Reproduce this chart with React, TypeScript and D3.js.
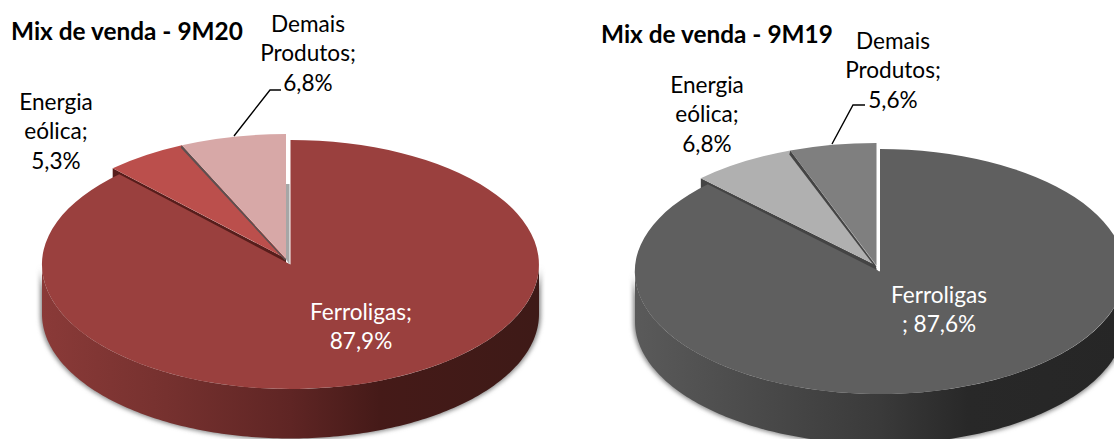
import React from "react";
import * as d3 from "d3";

const categories = ["Ferroligas", "Energia eólica", "Demais Produtos"];
const values9M20 = [87.9, 5.3, 6.8];
const values9M19 = [87.6, 6.8, 5.6];
const title9M20 = "Mix de venda - 9M20";
const title9M19 = "Mix de venda - 9M19";
const labels9M20 = [["Ferroligas;", "87,9%"], ["Energia", "eólica;", "5,3%"], ["Demais", "Produtos;", "6,8%"]];
const labels9M19 = [["Ferroligas", "; 87,6%"], ["Energia", "eólica;", "6,8%"], ["Demais", "Produtos;", "5,6%"]];

const FONT = "Lato, 'Open Sans', sans-serif";
const DEG = Math.PI / 180;

type Cfg = {
  id: string; values: number[]; labels: string[][]; title: string;
  cx: number; cy: number; rx: number; ry: number; depth: number;
  dx: number; dy: number; grow: number; edgeW: number;
  colors: string[]; wall: string; innerWall: string; sliverTop: number; edge: string;
  side: [number, string][];
  titleXY: [number, number];
  labelXY: [number, number][];
  leader: [number, number][];
};

const charts: Cfg[] = [
  {
    id: "a", values: values9M20, labels: labels9M20, title: title9M20,
    cx: 290.5, cy: 264.5, rx: 248.5, ry: 124.5, depth: 49.5, dx: -4.5, dy: -6, grow: 3, edgeW: 2.5,
    colors: ["#9a403e", "#bb4f4c", "#d7a8a7"], wall: "#571d1b", innerWall: "#a6a6a6", sliverTop: 184, edge: "#5e5050",
    side: [[0, "#8a3a38"], [0.25, "#76312f"], [0.5, "#5f2524"], [0.68, "#451a18"], [1, "#3e1a17"]],
    titleXY: [11, 40],
    labelXY: [[361, 320], [56, 110], [308, 32]],
    leader: [[234, 136], [270, 90], [281, 90]],
  },
  {
    id: "b", values: values9M19, labels: labels9M19, title: title9M19,
    cx: 880, cy: 271.5, rx: 245, ry: 122.5, depth: 50, dx: -3.5, dy: -6, grow: 5, edgeW: 4,
    colors: ["#5f5f5f", "#b0b0b0", "#7f7f7f"], wall: "#444444", innerWall: "#ffffff", sliverTop: 141, edge: "#444444",
    side: [[0, "#5a5a5a"], [0.25, "#4a4a4a"], [0.5, "#3a3a3a"], [0.68, "#282828"], [1, "#262626"]],
    titleXY: [601, 43],
    labelXY: [[939, 303], [707, 93], [893, 49]],
    leader: [[832, 144], [853, 105], [865, 105]],
  },
];

const unitArc = d3.arc<any>().innerRadius(0).outerRadius(1);

function Pie({ c }: { c: Cfg }) {
  const pie = d3.pie<number>().sort(null).startAngle(0).endAngle(2 * Math.PI);
  const arcs = pie(c.values);
  const px = (a: number, ox = 0, rx = c.rx) => c.cx + ox + rx * Math.sin(a);
  const py = (a: number, oy = 0) => c.cy + oy - c.ry * Math.cos(a);

  const line = d3.line<[number, number]>();
  const front = d3.range(90, 270.5, 1).map((d) => d * DEG);
  const sidePath = line([
    ...front.map((a) => [px(a), py(a)] as [number, number]),
    ...front.slice().reverse().map((a) => [px(a), py(a, c.depth)] as [number, number]),
  ]) + "Z";

  const [main, energia, demais] = arcs;
  const wedge = (a: any, ox: number, oy: number, rx: number, fill: string) => (
    <path
      d={unitArc(a) as string}
      transform={`translate(${c.cx + ox},${c.cy + oy}) scale(${rx},${c.ry})`}
      fill={fill}
    />
  );
  const rxS = c.rx + c.grow;
  const ax = c.cx + c.dx, ay = c.cy + c.dy;
  const eAng = energia.startAngle;
  const ex = px(eAng, c.dx, rxS), ey = py(eAng, c.dy);
  const wallE = line([[ax, ay], [ex, ey], [ex, ey + 30], [ax, ay + 30]]) + "Z";
  const dAng = demais.startAngle;
  const fx = px(dAng, c.dx, rxS), fy = py(dAng, c.dy);
  const wallD = line([[ax, ay + 1], [fx, fy], [fx - 1, fy + c.edgeW], [ax - 1, ay + 2]]) + "Z";
  const sliver = line([[c.cx - 5, c.sliverTop], [c.cx - 1, c.sliverTop], [c.cx - 1, c.cy], [c.cx - 5, ay]]) + "Z";

  return (
    <g>
      <defs>
        <linearGradient id={`side-${c.id}`} x1={c.cx - c.rx} x2={c.cx + c.rx} y1={0} y2={0} gradientUnits="userSpaceOnUse">
          {c.side.map(([o, col]) => <stop key={o} offset={o} stopColor={col} />)}
        </linearGradient>
        <filter id={`blur-${c.id}`} x="-5%" y="-10%" width="110%" height="120%">
          <feGaussianBlur stdDeviation="2.2" />
        </filter>
      </defs>
      <path d={sidePath} fill="#8c8c8c" filter={`url(#blur-${c.id})`} transform={`translate(${c.cx},${c.cy + 25}) scale(1.008,1.01) translate(${-c.cx},${-c.cy - 25})`} />
      <path d={sidePath} fill={`url(#side-${c.id})`} />
      <path d={wallE} fill={c.wall} />
      {wedge(main, 0, 0, c.rx, c.colors[0])}
      <path d={sliver} fill={c.innerWall} />
      {wedge(energia, c.dx, c.dy, rxS, c.colors[1])}
      <path d={wallD} fill={c.edge} />
      {wedge(demais, c.dx, c.dy, rxS, c.colors[2])}
      <path d={line(c.leader) as string} fill="none" stroke="#000" strokeWidth={1.4} />
      <text x={c.titleXY[0]} y={c.titleXY[1]} fontFamily={FONT} fontSize={24.4} fontWeight={700} fill="#000">{c.title}</text>
      {c.labels.map((lines, i) => (
        <text key={categories[i]} textAnchor="middle" fontFamily={FONT} fontSize={22.6} fill={i === 0 ? "#fff" : "#000"}>
          {lines.map((t, j) => (
            <tspan key={j} x={c.labelXY[i][0]} y={c.labelXY[i][1] + j * 29.3}>{t}</tspan>
          ))}
        </text>
      ))}
    </g>
  );
}

export default function App() {
  return (
    <svg width={1114} height={439} style={{ position: "absolute", left: 0, top: 0, display: "block", background: "#fff" }}>
      {charts.map((c) => <Pie key={c.id} c={c} />)}
    </svg>
  );
}
